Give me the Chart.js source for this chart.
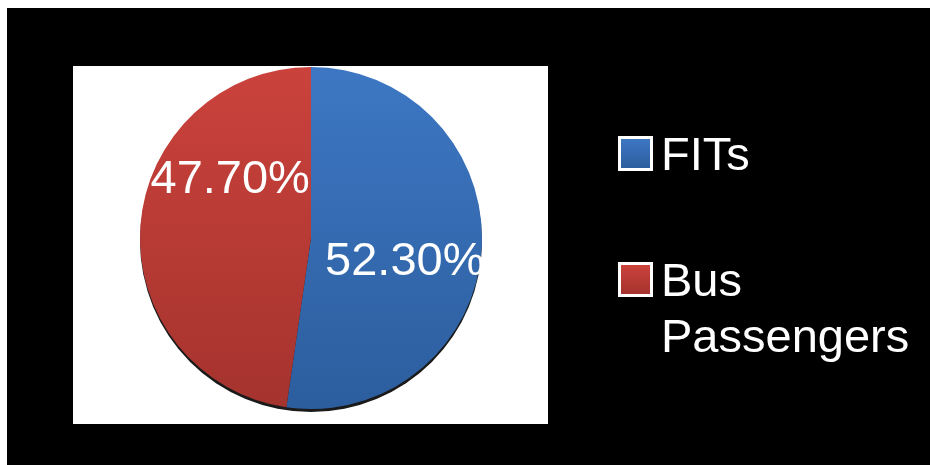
<!DOCTYPE html>
<html>
<head>
<meta charset="utf-8">
<script src="https://cdn.jsdelivr.net/npm/chart.js@4/dist/chart.umd.min.js"></script>
<style>
  html, body { margin: 0; padding: 0; background: #fff; }
  #wrap { width: 930px; height: 465px; }
</style>
</head>
<body>
<div id="wrap"><canvas id="pieChart" width="930" height="465"></canvas></div>
<script>
// data
var labels = ["FITs", "Bus Passengers"];
var shares = [52.30, 47.70];
var topColors = ["#3d77c3", "#cb423c"];
var bottomColors = ["#2c5e9e", "#a5332e"];

var FONT = '"Liberation Sans", Arial, sans-serif';

// slide background: white margin, black panel, white plot box
var background = {
  id: 'background',
  beforeDraw: function (chart) {
    var c = chart.ctx;
    c.save();
    c.fillStyle = '#fff';
    c.fillRect(0, 0, chart.width, chart.height);
    c.fillStyle = '#000';
    c.fillRect(7, 8, chart.width - 7, chart.height - 8);
    c.fillStyle = '#fff';
    c.fillRect(73, 66, 475, 358);
    c.restore();
  },
  // thin dark rim under the bottom of the pie
  beforeDatasetsDraw: function (chart) {
    var arc = chart.getDatasetMeta(0).data[0];
    if (!arc) return;
    var p = arc.getProps(['x', 'y', 'outerRadius']);
    var c = chart.ctx;
    c.save();
    c.fillStyle = '#1a1a1a';
    c.beginPath();
    c.arc(p.x, p.y + 3, p.outerRadius, 0, Math.PI * 2);
    c.fill();
    c.restore();
  }
};

// percentage labels sitting on the slices
var sliceLabels = {
  id: 'sliceLabels',
  afterDatasetsDraw: function (chart) {
    var c = chart.ctx;
    var meta = chart.getDatasetMeta(0);
    var shift = [[0, 17], [0, -52]];
    c.save();
    c.fillStyle = '#fff';
    c.font = '47px ' + FONT;
    c.textAlign = 'center';
    c.textBaseline = 'middle';
    meta.data.forEach(function (arc, i) {
      var p = arc.getProps(['x', 'y', 'startAngle', 'endAngle', 'outerRadius']);
      var mid = (p.startAngle + p.endAngle) / 2;
      var r = i === 0 ? 94 : 81;
      var x = p.x + Math.cos(mid) * r + shift[i][0];
      var y = p.y + Math.sin(mid) * r + shift[i][1];
      c.fillText(shares[i].toFixed(2) + '%', x, y);
    });
    c.restore();
  }
};

// legend on the right, with wrapped text
var sideLegend = {
  id: 'sideLegend',
  afterDraw: function (chart) {
    var c = chart.ctx;
    var x0 = 618, y0 = 136, gap = 126, lineH = 56, maxW = 270;
    c.save();
    c.font = '47px ' + FONT;
    c.textBaseline = 'alphabetic';
    chart.data.labels.forEach(function (lab, i) {
      var y = y0 + i * gap;
      c.fillStyle = '#fff';
      c.fillRect(x0, y, 35, 35);
      var g = c.createLinearGradient(0, y + 3, 0, y + 32);
      g.addColorStop(0, topColors[i]);
      g.addColorStop(1, bottomColors[i]);
      c.fillStyle = g;
      c.fillRect(x0 + 3, y + 3, 29, 29);
      // wrap words
      var words = lab.split(' ');
      var lines = [], cur = '';
      words.forEach(function (w) {
        var t = cur ? cur + ' ' + w : w;
        if (cur && c.measureText(t).width > maxW) { lines.push(cur); cur = w; }
        else cur = t;
      });
      lines.push(cur);
      c.fillStyle = '#fff';
      lines.forEach(function (ln, k) {
        c.fillText(ln, x0 + 43, y + 34 + k * lineH);
      });
    });
    c.restore();
  }
};

var ctxP = document.getElementById('pieChart').getContext('2d');

var myPieChart = new Chart(ctxP, {
  type: 'pie',
  data: {
    labels: labels,
    datasets: [{
      data: shares,
      borderWidth: 0,
      backgroundColor: function (context) {
        var chart = context.chart;
        var area = chart.chartArea;
        if (!area) return topColors[context.dataIndex];
        var g = chart.ctx.createLinearGradient(0, area.top, 0, area.bottom);
        g.addColorStop(0, topColors[context.dataIndex]);
        g.addColorStop(1, bottomColors[context.dataIndex]);
        return g;
      }
    }]
  },
  options: {
    responsive: false,
    animation: false,
    layout: { padding: { left: 138, right: 446, top: 67, bottom: 56 } },
    plugins: {
      legend: { display: false },
      tooltip: { enabled: false }
    }
  },
  plugins: [background, sliceLabels, sideLegend]
});
</script>
</body>
</html>
